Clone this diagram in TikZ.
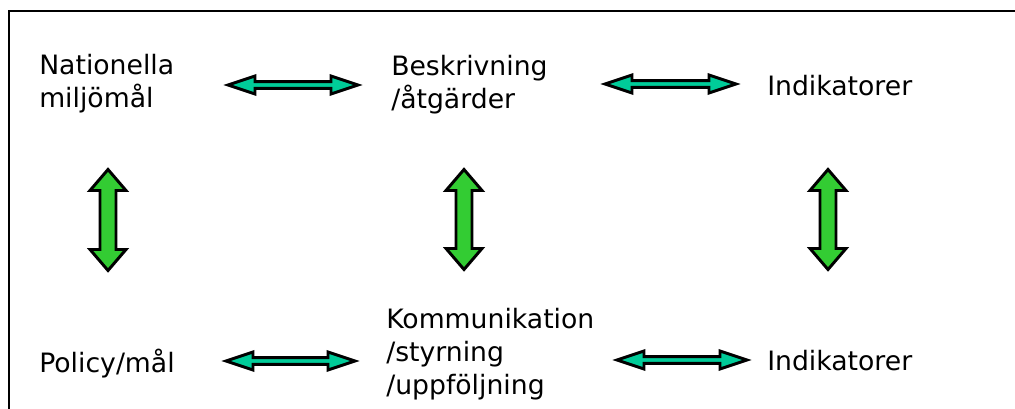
\documentclass[tikz,border=0pt]{standalone}
\usepackage{fontspec}
\setmainfont{DejaVu Sans}
\definecolor{teal}{RGB}{0,204,153}
\definecolor{leaf}{RGB}{51,204,51}
\tikzset{
  lbl/.style={anchor=north west, inner sep=0pt, align=left,
    font=\fontsize{20pt}{24.6pt}\selectfont},
  harrow/.style={draw=black, fill=teal, line width=2.2pt, line join=miter},
  varrow/.style={draw=black, fill=leaf, line width=2.2pt, line join=miter},
  frame/.style={draw=black, line width=1.5pt}
}
% horizontal double block arrow: #1 name, #2 left tip x, #3 right tip x, #4 y
\newcommand\hblock[4]{%
  \coordinate (#1-l) at (#2,#4);
  \coordinate (#1-r) at (#3,#4);
  \draw[harrow] (#1-l) -- ({#2+27},{#4-9}) -- ({#2+27},{#4-3.4}) -- ({#3-27},{#4-3.4})
    -- ({#3-27},{#4-9}) -- (#1-r) -- ({#3-27},{#4+9}) -- ({#3-27},{#4+3.4})
    -- ({#2+27},{#4+3.4}) -- ({#2+27},{#4+9}) -- cycle;}
% vertical double block arrow: #1 name, #2 x, #3 top tip y, #4 bottom tip y
\newcommand\vblock[4]{%
  \coordinate (#1-t) at (#2,#3);
  \coordinate (#1-b) at (#2,#4);
  \draw[varrow] (#1-t) -- ({#2+18},{#3+21}) -- ({#2+8},{#3+21}) -- ({#2+8},{#4-21})
    -- ({#2+18},{#4-21}) -- (#1-b) -- ({#2-18},{#4-21}) -- ({#2-8},{#4-21})
    -- ({#2-8},{#3+21}) -- ({#2-18},{#3+21}) -- cycle;}
\begin{document}
\begin{tikzpicture}[x=0.75pt,y=-0.75pt]
\useasboundingbox (0,0) rectangle (1015,409);
\draw[frame] (9,409) -- (9,11) -- (1015,11);
% labels (first baseline = north + 20px)
\node[lbl] (nat) at (39,54) {\rule{0pt}{15pt}Nationella\\miljömål};
\node[lbl] (besk) at (391,55) {\rule{0pt}{15pt}Beskrivning\\/åtgärder};
\node[lbl] (ind1) at (767,75) {\rule{0pt}{15pt}Indikatorer};
\node[lbl] (pol) at (39,349) {\rule{0pt}{15pt}Policy/mål};
\node[lbl] (komm) at (386,308) {\rule{0pt}{15pt}Kommunikation\\/styrning\\/uppföljning};
\node[lbl] (ind2) at (767,350) {\rule{0pt}{15pt}Indikatorer};
% arrows
\hblock{a1}{228}{358}{85}
\hblock{a2}{605}{736}{84}
\hblock{a3}{226}{355}{361}
\hblock{a4}{617}{747}{360}
\vblock{v1}{108}{169.5}{270.5}
\vblock{v2}{464}{169.5}{269.5}
\vblock{v3}{828}{169.5}{269.5}
\end{tikzpicture}
\end{document}
